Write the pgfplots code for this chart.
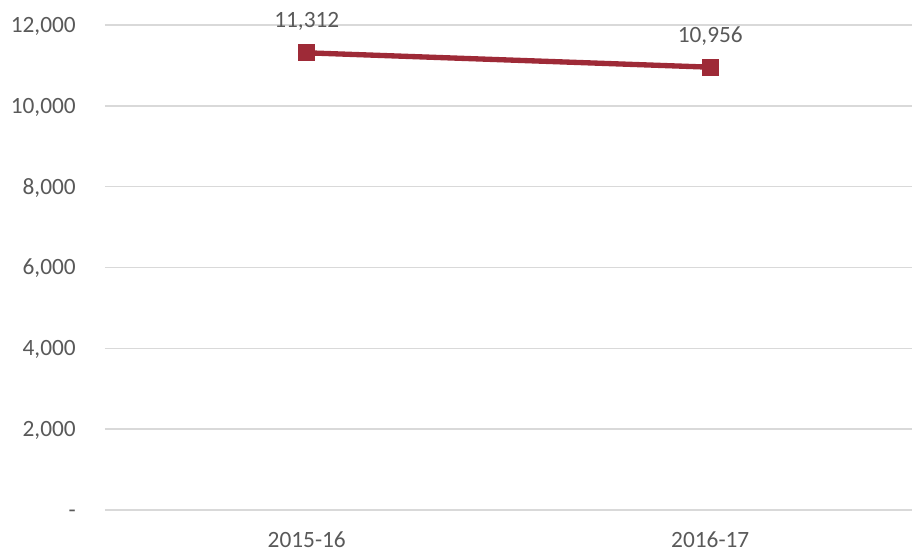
\documentclass[border=0pt]{standalone}
\usepackage{pgfplots}
\pgfplotsset{compat=1.18}
\usepackage{fontspec}
\setmainfont{Carlito}
\definecolor{serie}{HTML}{9E2A37}
\definecolor{gridc}{HTML}{D9D9D9}
\definecolor{txt}{HTML}{595959}
\begin{document}
\begin{tikzpicture}
\begin{axis}[name=ax, scale only axis, width=605.25pt, height=363.75pt,
  xmin=-0.5, xmax=1.5, ymin=0, ymax=12000,
  axis line style={draw=none},
  scaled y ticks=false,
  ytick={0,2000,4000,6000,8000,10000,12000},
  yticklabels={{-\hspace{8.25pt}},{2,000},{4,000},{6,000},{8,000},{10,000},{12,000}},
  ymajorgrids, grid style={gridc, line width=1.1pt},
  xtick={0,1}, xticklabels={2015-16,2016-17},
  major tick length=0pt, tick style={draw=none},
  ticklabel style={font=\fontsize{17.5}{21}\selectfont, text=txt, inner sep=0pt},
  yticklabel style={anchor=base east, xshift=-21.75pt, yshift=-5.5pt},
  xticklabel style={anchor=base, yshift=-28pt},
  clip=false,
  nodes near coords, point meta=explicit symbolic,
  nodes near coords style={anchor=base, inner sep=0pt, yshift=18.75pt, font=\fontsize{17.5}{21}\selectfont, text=txt},
]
\addplot[serie, line width=4pt, mark=square*, mark size=6pt, mark options={fill=serie, line width=0.5pt}]
  coordinates {(0,11312)[11,312] (1,10956)[10,956]};
\end{axis}
\pgfresetboundingbox
\useasboundingbox ([shift={(-78.75pt,-30.5pt)}]ax.south west) rectangle ([shift={(0pt,18.75pt)}]ax.north east);
\end{tikzpicture}
\end{document}
